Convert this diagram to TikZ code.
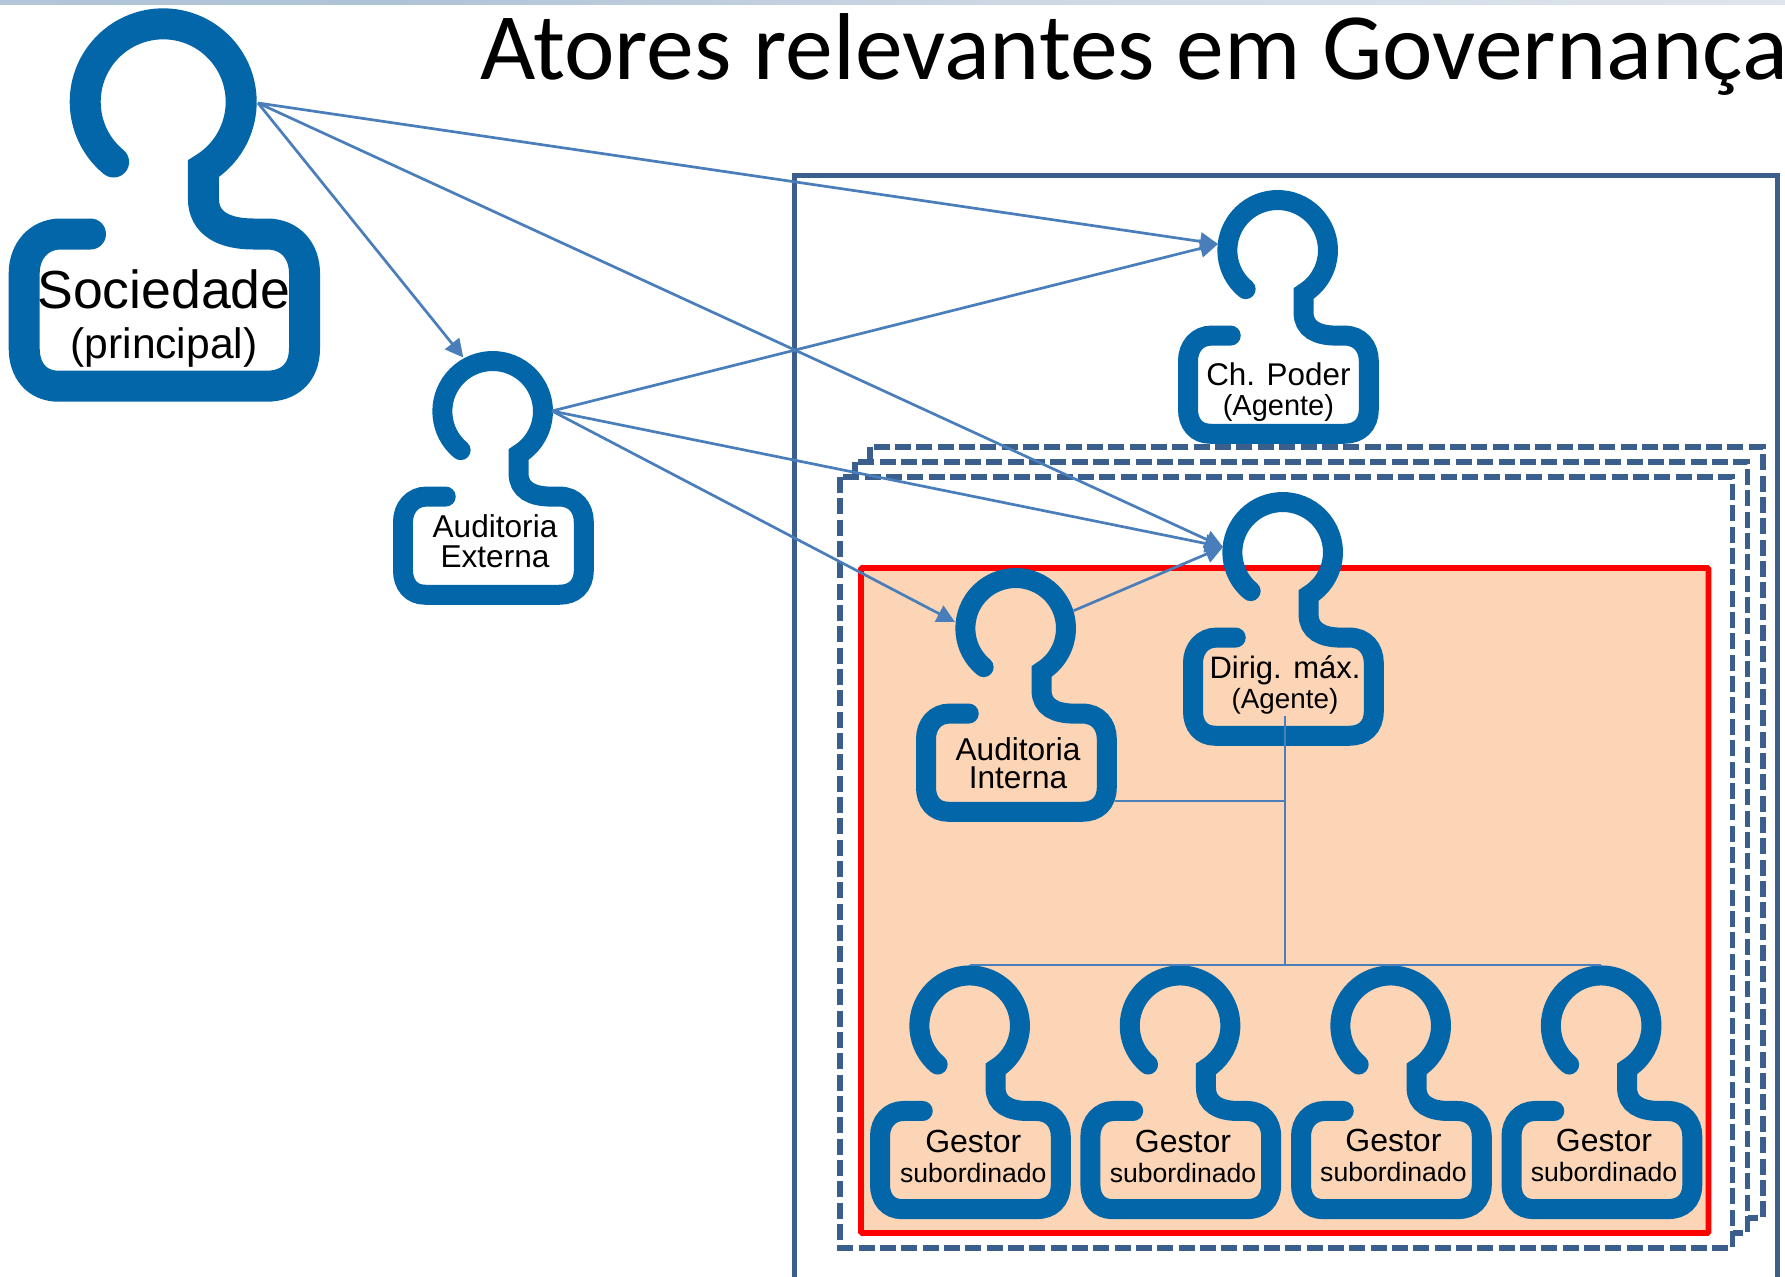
\documentclass[tikz,border=0pt]{standalone}
\usepackage{fontspec}
\setmainfont{Liberation Sans}
\newfontfamily\titlefont{Carlito}
\usetikzlibrary{arrows.meta}
\definecolor{personblue}{RGB}{3,102,168}
\definecolor{framebl}{RGB}{58,95,140}
\definecolor{linkbl}{RGB}{74,126,187}
\definecolor{peach}{RGB}{251,213,181}
\pgfdeclarehorizontalshading{topstrip}{100bp}{
  rgb(0bp)=(.88,.91,.94);
  rgb(5bp)=(.725,.79,.863);
  rgb(36bp)=(.686,.765,.843);
  rgb(53bp)=(.804,.843,.894);
  rgb(100bp)=(.95,.957,.973)}
\tikzset{
  figure/.style={draw=personblue,line cap=round,line join=miter,miter limit=10},
  outerframe/.style={draw=framebl,line width=2.5pt},
  stackframe/.style={draw=framebl,fill=white,line width=2.8pt,dash pattern=on 8pt off 2.67pt},
  redframe/.style={draw=red,fill=peach,line width=2.8pt,rounded corners=0.5pt},
  link/.style={draw=linkbl,line width=1.35pt},
  arrowlink/.style={link,-{Triangle[length=9pt,width=9pt]}},
  lbl/.style={anchor=base,inner sep=0pt,outer sep=0pt,text=black},
}
\newcommand{\person}[3]{% left, top, scale
  \begin{scope}[shift={(#1,#2)},scale=#3]
    \path[figure,line width=#3*15.5pt]
      (104.9,153.7) arc[start angle=129.5,end angle=419,radius=78pt]
      -- (194.7,190) .. controls (194.7,215) and (215,225.7) .. (245,225.7)
      -- (258,225.7) .. controls (282,225.7) and (295.8,243) .. (295.8,265)
      -- (295.8,340) .. controls (295.8,365) and (280,377.9) .. (258,377.9)
      -- (50,377.9) .. controls (28,377.9) and (15.5,362) .. (15.5,340)
      -- (15.5,265) .. controls (15.5,243) and (30,225.7) .. (52,225.7)
      -- (81.8,225.7);
  \end{scope}}
\newcommand{\lblsize}[1]{\fontsize{#1}{#1}\selectfont}
\begin{document}
\begin{tikzpicture}[x=1pt,y=1pt,xscale=.5,yscale=-.5]
\useasboundingbox (0,0) rectangle (1785,1276);
\shade[shading=topstrip,draw=none] (0,0) rectangle (1785,4.5);
% title
\node[lbl,anchor=base west,xscale=1.007] (title) at (480,79) {\titlefont\fontsize{47.5}{47.5}\selectfont Atores relevantes em Governança};
% frames
\draw[outerframe] (794,1290) -- (794,175) -- (1777.7,175) -- (1777.7,1290);
\draw[stackframe] (870,447) rectangle (1762.7,1218);
\draw[stackframe] (855,462) rectangle (1747.5,1233);
\draw[stackframe] (840,477) rectangle (1732.5,1248);
\draw[redframe] (861,568) rectangle (1708.5,1233);
% people
\person{8.7}{8.3}{1}
\person{393}{351}{.645}
\person{1178}{190}{.645}
\person{1183}{492}{.645}
\person{916}{568}{.645}
\person{870}{965.4}{.645}
\person{1080.4}{965.4}{.645}
\person{1291}{965.4}{.645}
\person{1501.5}{965.4}{.645}
% texts
\node[lbl] (soc) at (164,308) {\lblsize{26.8}Sociedade};
\node[lbl] (socb) at (164,358.5) {\lblsize{21.3}(principal)};
\node[lbl] (ae) at (495,537.5) {\lblsize{15.8}Auditoria};
\node[lbl] (aeb) at (495,567) {\lblsize{15.8}Externa};
\node[lbl] (ch) at (1278.4,385) {\lblsize{15.7}Ch. Poder};
\node[lbl] (chb) at (1278.4,415.5) {\lblsize{14.5}(Agente)};
\node[lbl] (dm) at (1285,678) {\lblsize{15.5}Dirig. máx.};
\node[lbl] (dmb) at (1285,708) {\lblsize{13.9}(Agente)};
\node[lbl] (ai) at (1018,760.5) {\lblsize{15.8}Auditoria};
\node[lbl] (aib) at (1018,788.5) {\lblsize{15.8}Interna};
\node[lbl] (ga) at (973.3,1152) {\lblsize{16}Gestor};
\node[lbl] (gab) at (973.3,1182) {\lblsize{13.3}subordinado};
\node[lbl] (gb) at (1183,1152) {\lblsize{16}Gestor};
\node[lbl] (gbb) at (1183,1182) {\lblsize{13.3}subordinado};
\node[lbl] (gc) at (1393.4,1151.5) {\lblsize{16}Gestor};
\node[lbl] (gcb) at (1393.4,1181.7) {\lblsize{13.3}subordinado};
\node[lbl] (gd) at (1604,1151.5) {\lblsize{16}Gestor};
\node[lbl] (gdb) at (1604,1181.7) {\lblsize{13.3}subordinado};
% ports
\coordinate (socout) at (258,103);
\coordinate (chin) at (1218,244);
\coordinate (aein) at (463.3,357.5);
\coordinate (dmin) at (1223,547);
\coordinate (aeout) at (552,411);
\coordinate (aiin) at (955,622);
\coordinate (aiout) at (1073.6,610.7);
\coordinate (dmdown) at (1285,716);
\coordinate (busjoin) at (1285,965);
\coordinate (aibranch) at (1114.6,801);
\coordinate (branchjoin) at (1285,801);
\coordinate (busa) at (970,965);
\coordinate (busd) at (1601,965);
% connectors
\draw[arrowlink] (socout) -- (chin);
\draw[arrowlink] (socout) -- (aein);
\draw[arrowlink] (socout) -- (dmin);
\draw[arrowlink] (aeout) -- (chin);
\draw[arrowlink] (aeout) -- (dmin);
\draw[arrowlink] (aeout) -- (aiin);
\draw[arrowlink] (aiout) -- (dmin);
\draw[link] (dmdown) -- (busjoin);
\draw[link] (aibranch) -- (branchjoin);
\draw[link] (busa) -- (busd);
\end{tikzpicture}
\end{document}
